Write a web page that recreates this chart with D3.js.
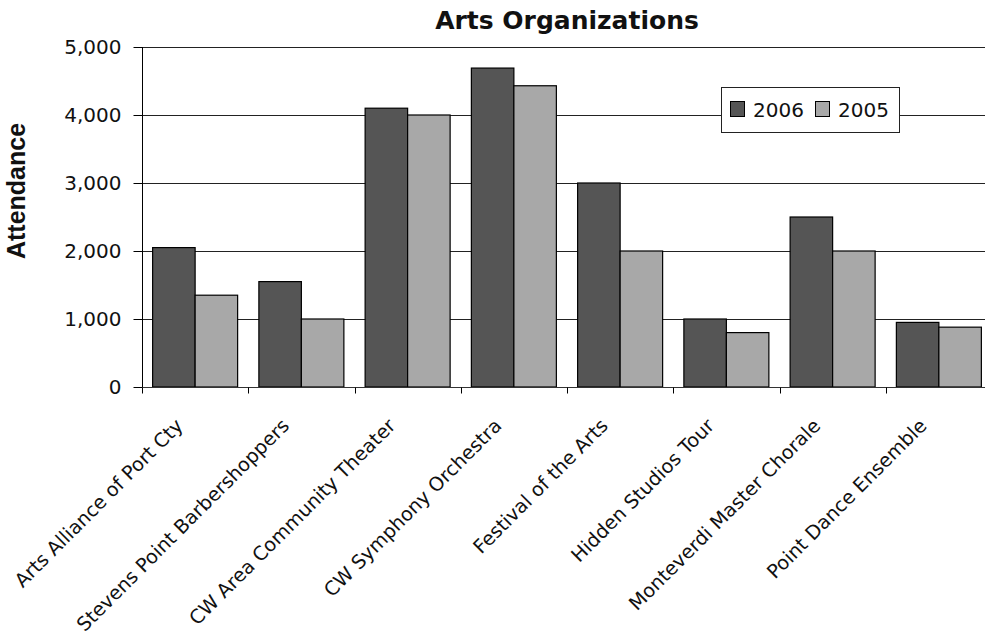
<!DOCTYPE html>
<html>
<head>
<meta charset="utf-8">
<script src="https://cdn.jsdelivr.net/npm/d3@7"></script>
<style>
  html, body { margin: 0; padding: 0; background: #fff; }
  svg { display: block; }
</style>
</head>
<body>
<svg id="chart" width="985" height="636"></svg>
<script>
const categories = [
  "Arts Alliance of Port Cty",
  "Stevens Point Barbershoppers",
  "CW Area Community Theater",
  "CW Symphony Orchestra",
  "Festival of the Arts",
  "Hidden Studios Tour",
  "Monteverdi Master Chorale",
  "Point Dance Ensemble"
];
const seriesNames = ["2006", "2005"];
const values2006 = [2050, 1550, 4100, 4690, 3000, 1000, 2500, 950];
const values2005 = [1350, 1000, 4000, 4430, 2000, 800, 2000, 880];
const yTicks = [0, 1000, 2000, 3000, 4000, 5000];
const seriesColors = ["#555555", "#a8a8a8"];
const titleText = "Arts Organizations";
const yTitle = "Attendance";

const seriesValues = [values2006, values2005];
const data = categories.map((c, i) => ({
  cat: c,
  vals: seriesNames.map((s, j) => ({ s, v: seriesValues[j][i], color: seriesColors[j] }))
}));

const svg = d3.select("#chart");
const mLeft = 142, mTop = 47, mBottom = 387;
const step = 106.25;
const mRight = mLeft + step * categories.length;

const x = d3.scaleBand().domain(categories).range([mLeft, mRight]).padding(0);
const xs = d3.scaleBand().domain(seriesNames).range([0, x.bandwidth()]).paddingInner(0).paddingOuter(0.25);
const y = d3.scaleLinear().domain([0, 5000]).range([mBottom, mTop]);

const font = "'DejaVu Sans', sans-serif";

// gridlines
svg.append("g")
  .selectAll("line")
  .data(yTicks.filter(d => d > 0))
  .join("line")
  .attr("x1", mLeft).attr("x2", mRight)
  .attr("y1", d => Math.round(y(d)) + 0.5).attr("y2", d => Math.round(y(d)) + 0.5)
  .attr("stroke", "#222").attr("stroke-width", 1);

// bars
const groups = svg.append("g")
  .selectAll("g")
  .data(data)
  .join("g")
  .attr("transform", d => `translate(${x(d.cat)},0)`);

groups.selectAll("rect")
  .data(d => d.vals)
  .join("rect")
  .attr("x", d => xs(d.s))
  .attr("y", d => y(d.v))
  .attr("width", xs.bandwidth())
  .attr("height", d => mBottom - y(d.v))
  .attr("fill", d => d.color)
  .attr("stroke", "#000")
  .attr("stroke-width", 1.2);

// y axis
const yAxis = d3.axisLeft(y).tickValues(yTicks).tickSize(9).tickPadding(12)
  .tickFormat(d3.format(","));
const gy = svg.append("g").attr("transform", `translate(${mLeft + 0.5},0)`).call(yAxis);
gy.select(".domain").attr("stroke", "#000").attr("d", `M0,${mTop}V${mBottom + 6}`);
gy.selectAll(".tick line").attr("stroke", "#000");
gy.selectAll(".tick text")
  .attr("font-family", font).attr("font-size", 20).attr("fill", "#111");

// x axis
const xAxis = d3.axisBottom(x).tickSize(0).tickFormat("");
const gx = svg.append("g").attr("transform", `translate(0,${mBottom + 0.5})`).call(xAxis);
gx.select(".domain").attr("stroke", "#333").attr("d", `M${mLeft},0H${mRight}`);
gx.selectAll(".tick").remove();
// category boundary ticks
gx.selectAll("line.bt")
  .data(categories)
  .join("line")
  .attr("class", "bt")
  .attr("x1", d => Math.round(x(d)) + 0.5).attr("x2", d => Math.round(x(d)) + 0.5)
  .attr("y1", 0).attr("y2", 6)
  .attr("stroke", "#000");

// category labels
svg.append("g")
  .selectAll("text")
  .data(categories)
  .join("text")
  .attr("transform", d => `translate(${x(d) + x.bandwidth() / 2 - 11},${mBottom + 40}) rotate(-45)`)
  .attr("text-anchor", "end")
  .attr("font-family", font)
  .attr("font-size", 19.3)
  .attr("fill", "#111")
  .text(d => d);

// title
svg.append("text")
  .attr("x", 567).attr("y", 29)
  .attr("text-anchor", "middle")
  .attr("font-family", font)
  .attr("font-weight", "bold")
  .attr("font-size", 25)
  .attr("fill", "#111")
  .text(titleText);

// y title
svg.append("text")
  .attr("transform", "translate(25,191) rotate(-90)")
  .attr("text-anchor", "middle")
  .attr("font-family", "'Liberation Sans', Arial, sans-serif")
  .attr("font-weight", "bold")
  .attr("font-size", 25)
  .attr("fill", "#111")
  .text(yTitle);

// legend
const lg = svg.append("g").attr("transform", "translate(721,87)");
lg.append("rect").attr("x", 0.5).attr("y", 0.5).attr("width", 178).attr("height", 45)
  .attr("fill", "#fff").attr("stroke", "#222").attr("stroke-width", 1);
const items = lg.selectAll("g.item")
  .data(seriesNames)
  .join("g")
  .attr("class", "item")
  .attr("transform", (d, i) => `translate(${9 + i * 85},0)`);
items.append("rect")
  .attr("x", 0.5).attr("y", 14.5).attr("width", 14).attr("height", 15)
  .attr("fill", (d, i) => seriesColors[i])
  .attr("stroke", "#000").attr("stroke-width", 1);
items.append("text")
  .attr("x", 23).attr("y", 30)
  .attr("font-family", font).attr("font-size", 20).attr("fill", "#111")
  .text(d => d);
</script>
</body>
</html>
